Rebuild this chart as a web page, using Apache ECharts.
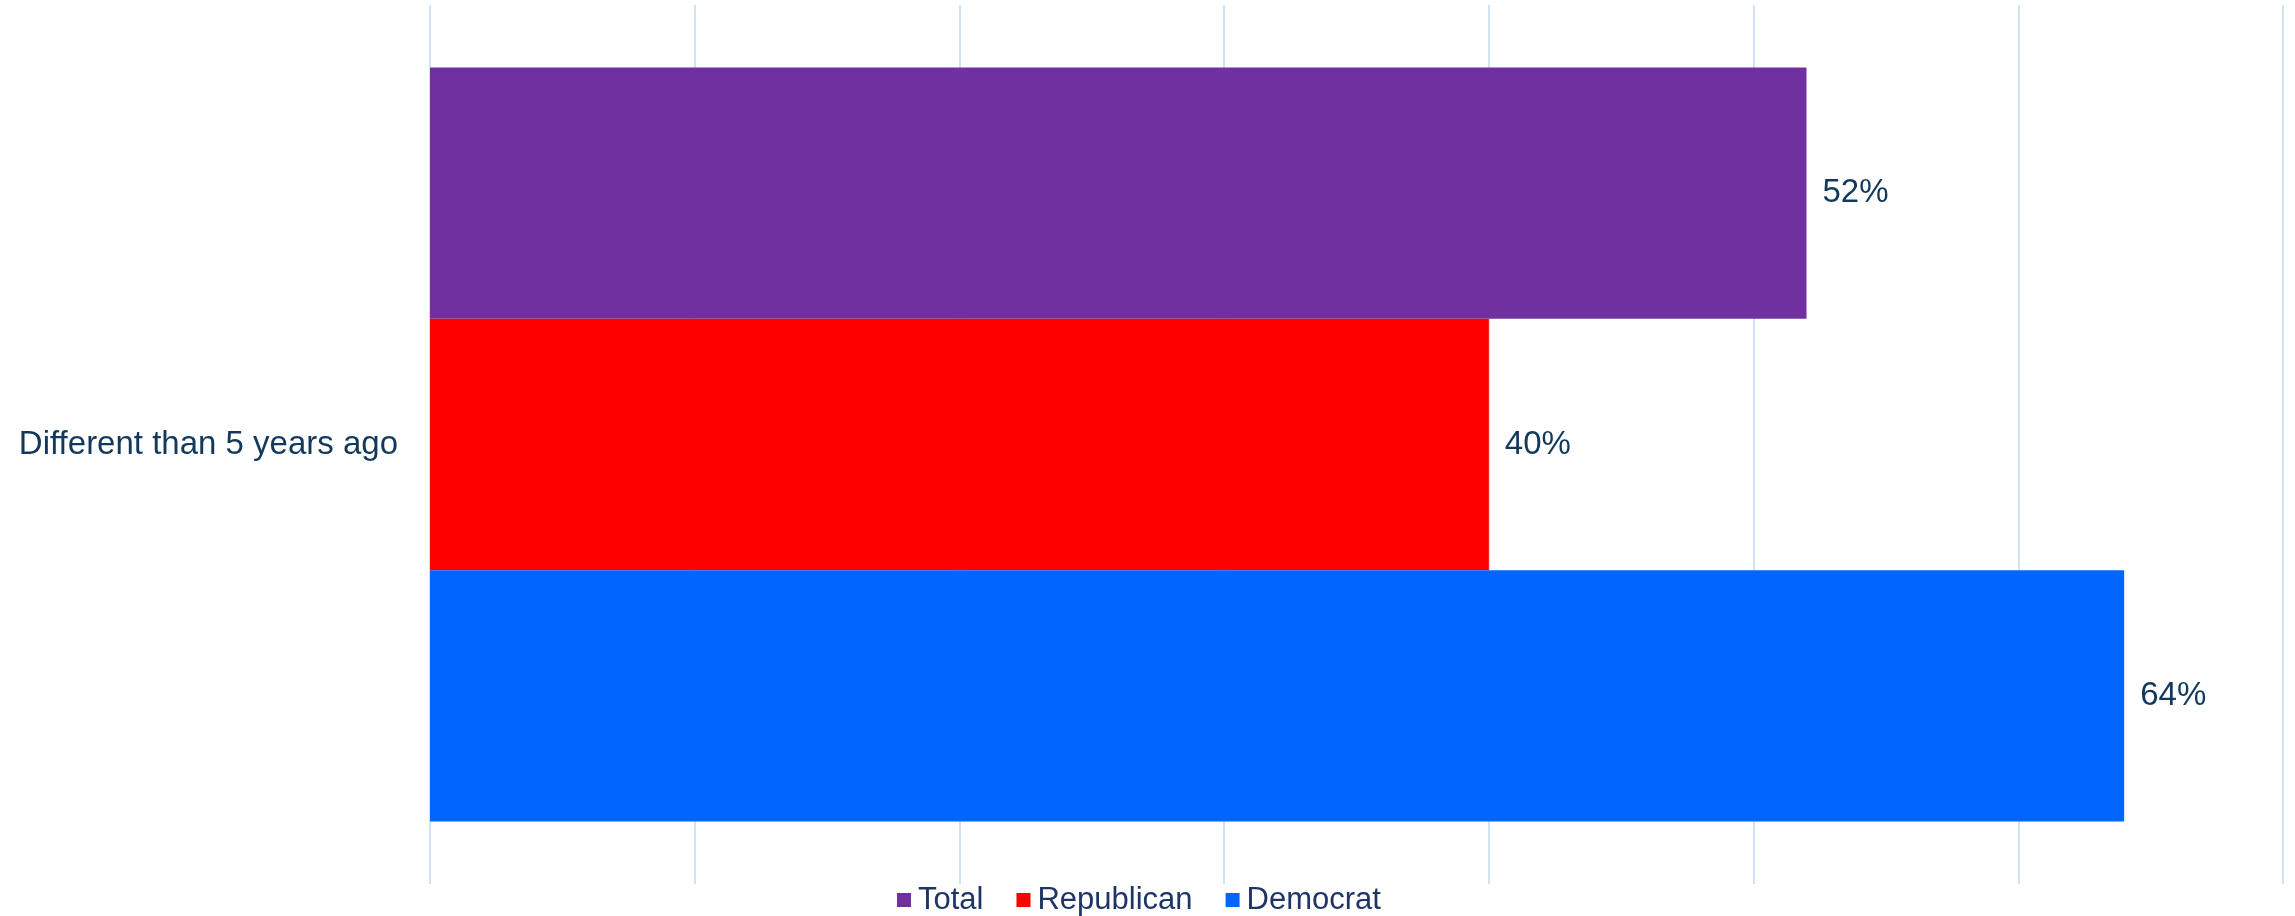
<!DOCTYPE html>
<html>
<head>
<meta charset="utf-8">
<script src="https://cdn.jsdelivr.net/npm/echarts@6/dist/echarts.min.js"></script>
<style>
html,body{margin:0;padding:0;background:#fff;}
#chart{width:2295px;height:916px;}
</style>
</head>
<body>
<div id="chart"></div>
<script>
const categories = ["Different than 5 years ago"];
const seriesNames = ["Total", "Republican", "Democrat"];
const totalValues = [52];
const republicanValues = [40];
const democratValues = [64];
const seriesColors = ["#7030A0", "#FF0000", "#0066FF"];

const FONT = '"Liberation Sans", Arial, Helvetica, sans-serif';
const TEXT = '#12395c';
const valueSets = [totalValues, republicanValues, democratValues];

const chart = echarts.init(document.getElementById('chart'), null, {renderer: 'canvas'});
chart.setOption({
  animation: false,
  backgroundColor: '#ffffff',
  textStyle: {fontFamily: FONT},
  grid: {left: 430, right: 12, top: 5, bottom: 32, containLabel: false},
  legend: {
    data: seriesNames,
    left: 892,
    top: 879,
    itemWidth: 14,
    itemHeight: 14,
    itemGap: 33,
    icon: 'rect',
    textStyle: {fontSize: 31, color: '#1f3566', fontFamily: FONT, lineHeight: 32, padding: [0,0,0,2]}
  },
  xAxis: {
    type: 'value',
    min: 0,
    max: 70,
    interval: 10,
    axisLabel: {show: false},
    axisLine: {show: false},
    axisTick: {show: false},
    splitLine: {show: true, lineStyle: {color: '#cfe3f7', width: 2}}
  },
  yAxis: {
    type: 'category',
    data: categories,
    inverse: true,
    axisLine: {show: false},
    axisTick: {show: false},
    axisLabel: {fontSize: 33, color: TEXT, margin: 32, fontFamily: FONT}
  },
  series: seriesNames.map((name, i) => ({
    name: name,
    type: 'bar',
    data: valueSets[i],
    itemStyle: {color: seriesColors[i]},
    barGap: '0%',
    barCategoryGap: '14.2%',
    label: {
      show: true,
      position: 'right',
      distance: 16,
      formatter: p => p.value + '%',
      fontSize: 33,
      color: TEXT,
      fontFamily: FONT
    }
  }))
});
</script>
</body>
</html>
